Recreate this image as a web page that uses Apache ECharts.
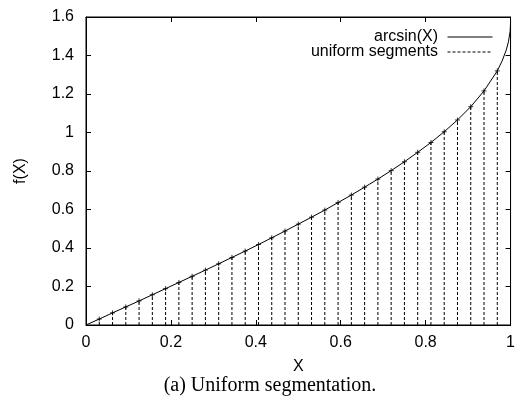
<!DOCTYPE html>
<html>
<head>
<meta charset="utf-8">
<script src="https://cdn.jsdelivr.net/npm/echarts@6/dist/echarts.min.js"></script>
<style>html,body{margin:0;padding:0;background:#fff}#c{width:518px;height:401px}</style>
</head>
<body>
<div id="c"></div>
<script>
// Segment positions (x) and the arcsin values at them
var segX = [0.03125,0.0625,0.09375,0.125,0.15625,0.1875,0.21875,0.25,0.28125,0.3125,0.34375,0.375,0.40625,0.4375,0.46875,0.5,0.53125,0.5625,0.59375,0.625,0.65625,0.6875,0.71875,0.75,0.78125,0.8125,0.84375,0.875,0.90625,0.9375,0.96875];
var segY = [0.031,0.063,0.094,0.125,0.157,0.189,0.221,0.253,0.285,0.318,0.351,0.384,0.418,0.453,0.488,0.524,0.560,0.597,0.636,0.675,0.716,0.758,0.802,0.848,0.897,0.948,1.004,1.065,1.134,1.216,1.320];
// Curve points
var curveX = [0,0.03125,0.0625,0.09375,0.125,0.15625,0.1875,0.21875,0.25,0.28125,0.3125,0.34375,0.375,0.40625,0.4375,0.46875,0.5,0.53125,0.5625,0.59375,0.625,0.65625,0.6875,0.71875,0.75,0.78125,0.8125,0.84375,0.875,0.90625,0.9375,0.96875,0.98,0.99,0.995,0.999,1];
var curveY = [0,0.031,0.063,0.094,0.125,0.157,0.189,0.221,0.253,0.285,0.318,0.351,0.384,0.418,0.453,0.488,0.524,0.560,0.597,0.636,0.675,0.716,0.758,0.802,0.848,0.897,0.948,1.004,1.065,1.134,1.216,1.320,1.371,1.429,1.471,1.526,1.571];
var xTicks = [0,0.2,0.4,0.6,0.8,1];
var yTicks = [0,0.2,0.4,0.6,0.8,1,1.2,1.4,1.6];

var curveData = curveX.map(function(x,i){return [x, curveY[i]];});
var segData = [];
segX.forEach(function(x,i){ segData.push([x,0]); segData.push([x,segY[i]]); segData.push([x,null]); });
var topData = segX.map(function(x,i){return [x, segY[i]];});

var font = 'Liberation Sans, Arial, Helvetica, sans-serif';
var axisCommon = {
  axisLine:{show:true,onZero:false,lineStyle:{color:'#000',width:1}},
  axisTick:{show:true,inside:true,length:5,lineStyle:{color:'#000'}},
  splitLine:{show:false}
};
function mk(extra){ return Object.assign({}, JSON.parse(JSON.stringify(axisCommon)), extra); }
function fmt(v){ return String(+(+v).toFixed(1)); }

var legendCommon = {right:20,align:'right',itemWidth:45,itemHeight:14,
  itemStyle:{opacity:0},
  lineStyle:{width:1},
  formatter:function(n){return n+' ';},
  textStyle:{fontFamily:font,fontSize:16,color:'#000',lineHeight:16}};

var chart = echarts.init(document.getElementById('c'), null, {renderer:'canvas'});
chart.setOption({
  animation:false,
  backgroundColor:'#fff',
  grid:{left:86,right:4,top:17,bottom:76,show:true,borderColor:'#000',borderWidth:1,backgroundColor:'transparent'},
  xAxis:[
    mk({type:'value',min:0,max:1,interval:0.2,position:'bottom',name:'X',nameLocation:'middle',nameGap:34,
      nameTextStyle:{fontFamily:font,fontSize:16,color:'#000'},
      axisLabel:{fontFamily:font,fontSize:16,color:'#000',margin:10,formatter:fmt}}),
    mk({type:'value',min:0,max:1,interval:0.2,position:'top',axisLabel:{show:false}})
  ],
  yAxis:[
    mk({type:'value',min:0,max:1.6,interval:0.2,position:'left',name:'f(X)',nameLocation:'middle',nameGap:57,
      nameTextStyle:{fontFamily:font,fontSize:16,color:'#000'},
      axisLabel:{fontFamily:font,fontSize:16,color:'#000',margin:12,formatter:fmt}}),
    mk({type:'value',min:0,max:1.6,interval:0.2,position:'right',axisLabel:{show:false}})
  ],
  legend:[
    Object.assign({data:['arcsin(X)'],top:24}, legendCommon),
    Object.assign({data:['uniform segments'],top:39}, legendCommon)
  ],
  series:[
    {name:'arcsin(X)',type:'line',data:curveData,symbol:'none',smooth:false,
     lineStyle:{color:'#000',width:1},itemStyle:{color:'#000'},z:3},
    {name:'uniform segments',type:'line',data:segData,symbol:'none',connectNulls:false,
     lineStyle:{color:'#000',width:1,type:[3,2]},itemStyle:{color:'#000'},z:2},
    {name:'marks',type:'scatter',data:topData,symbol:'path://M0,5L10,5M5,0L5,10',symbolSize:5,
     itemStyle:{color:'none',borderColor:'#000',borderWidth:1},z:4},
    {name:'mirror',type:'line',xAxisIndex:1,yAxisIndex:1,data:[],symbol:'none'}
  ],
  graphic:[
    {type:'text',x:270,y:386,style:{text:'(a) Uniform segmentation.',fontFamily:'Liberation Serif, Times New Roman, serif',fontSize:20,fill:'#000',align:'center',verticalAlign:'middle'}}
  ]
});
</script>
</body>
</html>
